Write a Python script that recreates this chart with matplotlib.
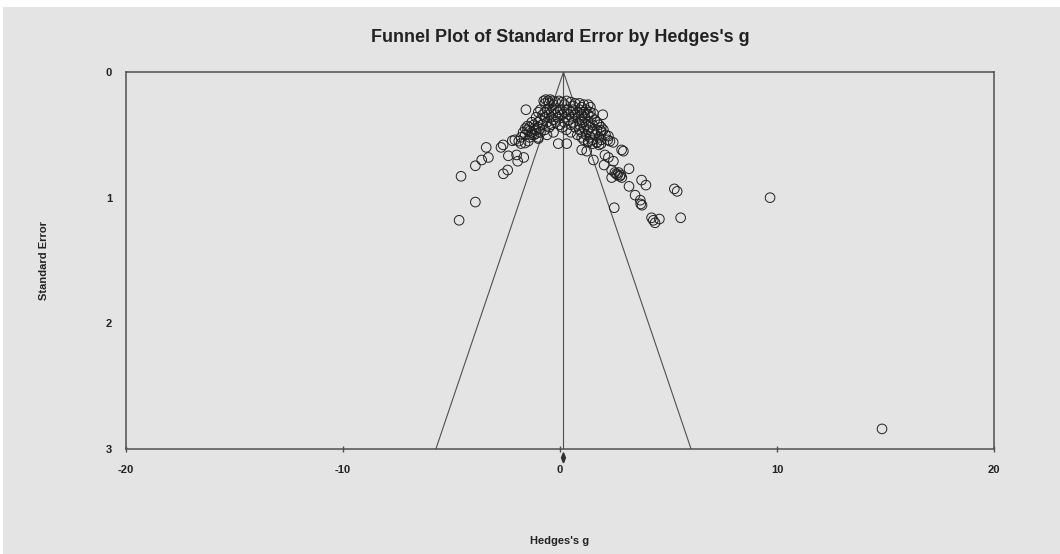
#!/usr/bin/env python3
"""Funnel plot of standard error by Hedges's g"""

import matplotlib
matplotlib.use('Agg')
import matplotlib.pyplot as plt
from matplotlib.patches import Rectangle

plt.rcParams['axes.unicode_minus'] = False

# --- datos ---
hedges_g = [
    # flanco izquierdo disperso
    -1.57, -4.56, -3.90, -4.65, -3.40, -3.90, -3.61, -3.30, -2.72, -2.62,
    -2.38, -2.61, -2.41, -1.95, -2.00, -1.67, -2.20, -2.08, -1.61, -1.46,
    -1.00, -0.08, 0.31,
    # flanco derecho disperso
    1.97, 1.54, 1.89, 2.23, 2.30, 2.45, 2.84, 2.92, 1.00, 1.23,
    1.54, 2.07, 2.23, 2.46, 2.03, 2.38, 2.53, 2.65, 2.75, 2.85,
    2.38, 2.60, 2.70, 2.80, 3.18, 3.18, 3.76, 3.96, 3.46, 3.70,
    3.72, 3.78, 2.50, 4.22, 4.30, 4.38, 4.58, 5.56, 5.27, 5.40,
    9.68, 14.84,
    # banda superior
    -0.75, -0.65, -0.55, -0.45, -0.35, -0.20, -0.05, 0.10, 0.30, 0.50,
    0.70, 0.90, 1.10, 1.30, -0.70, -0.50, -0.30, 0.20, 0.60, 1.00, 1.40,
    # nucleo denso
    -0.9, -0.6, -0.3, 0.0, 0.3, 0.6, 0.9, 1.2,
    -1.0, -0.7, -0.4, -0.1, 0.2, 0.5, 0.8, 1.1, 1.4,
    -0.8, -0.5, -0.2, 0.1, 0.4, 0.7, 1.0, 1.3,
    -1.1, -0.7, -0.4, -0.1, 0.25, 0.55, 0.85, 1.15, 1.45,
    -0.9, -0.3, 0.4, 1.0, 1.6,
    -1.3, -1.0, -0.6, -0.2, 0.2, 0.6, 1.0, 1.3, 1.7,
    -1.2, -0.8, -0.4, 0.0, 0.5, 0.9, 1.2, 1.5, 1.8,
    -1.4, -1.0, -0.5, 0.1, 0.7, 1.1, 1.4, 1.9,
    -1.5, -1.1, -0.7, 0.3, 0.9, 1.3, 1.7, 2.0,
    -1.3, -0.9, -0.3, 0.5, 1.0, 1.5, 1.9,
    -1.6, -1.2, -0.6, 0.8, 1.2, 1.6, 2.1,
    -1.4, -1.0, 1.0, 1.4, 1.8,
    1.1, 1.5, 1.9, 2.2,
    1.3, 1.7,
    # flanco izquierdo del nucleo
    -1.8, -1.7, -1.6, -1.5, -1.4, -1.2, -1.9, -1.8, -1.3, -1.1,
    # flanco derecho del nucleo
    1.3, 1.5, 1.7, 1.8, 1.9,
]

std_error = [
    0.30, 0.83, 1.035, 1.18, 0.60, 0.746, 0.70, 0.68, 0.60, 0.58,
    0.667, 0.81, 0.78, 0.71, 0.66, 0.68, 0.547, 0.54, 0.565, 0.55,
    0.53, 0.57, 0.57,
    0.34, 0.33, 0.467, 0.51, 0.55, 0.56, 0.62, 0.63, 0.62, 0.63,
    0.70, 0.66, 0.68, 0.71, 0.74, 0.78, 0.80, 0.82, 0.83, 0.84,
    0.84, 0.81, 0.80, 0.82, 0.77, 0.91, 0.86, 0.90, 0.98, 1.02,
    1.05, 1.06, 1.08, 1.16, 1.18, 1.20, 1.17, 1.16, 0.93, 0.95,
    1.00, 2.84,
    0.23, 0.22, 0.23, 0.22, 0.23, 0.24, 0.23, 0.24, 0.23, 0.24,
    0.25, 0.25, 0.26, 0.26, 0.25, 0.25, 0.26, 0.26, 0.27, 0.28, 0.28,
    0.30, 0.30, 0.30, 0.30, 0.30, 0.30, 0.30, 0.30,
    0.32, 0.32, 0.32, 0.32, 0.32, 0.32, 0.32, 0.32, 0.32,
    0.34, 0.34, 0.34, 0.34, 0.34, 0.34, 0.34, 0.34,
    0.36, 0.36, 0.36, 0.36, 0.36, 0.36, 0.36, 0.36, 0.36,
    0.38, 0.38, 0.38, 0.38, 0.38,
    0.40, 0.40, 0.40, 0.40, 0.40, 0.40, 0.40, 0.40, 0.40,
    0.42, 0.42, 0.42, 0.42, 0.42, 0.42, 0.42, 0.42, 0.42,
    0.44, 0.44, 0.44, 0.44, 0.44, 0.44, 0.44, 0.44,
    0.46, 0.46, 0.46, 0.46, 0.46, 0.46, 0.46, 0.46,
    0.48, 0.48, 0.48, 0.48, 0.48, 0.48, 0.48,
    0.50, 0.50, 0.50, 0.50, 0.50, 0.50, 0.50,
    0.52, 0.52, 0.52, 0.52, 0.52,
    0.54, 0.54, 0.54, 0.54,
    0.56, 0.56,
    0.52, 0.48, 0.45, 0.43, 0.47, 0.45, 0.55, 0.57, 0.50, 0.49,
    0.55, 0.57, 0.56, 0.58, 0.57,
]

efecto_medio = 0.16        # estimacion combinada
ic_bajo, ic_alto = 0.07, 0.25
se_max = 3.0
z = 1.96

X_TICKS = [-20, -10, 0, 10, 20]
Y_TICKS = [0, 1, 2, 3]

GRIS = '#e4e4e4'
LINEA = '#505050'

fig = plt.figure(figsize=(10.6, 5.54), dpi=100)
fig.patch.set_facecolor('white')
fig.add_artist(Rectangle((3 / 1060, 0), 1, (554 - 7) / 554,
                         transform=fig.transFigure, facecolor=GRIS,
                         edgecolor='none', zorder=-10))

ax = fig.add_axes([126 / 1060, 105 / 554, 868 / 1060, 377 / 554])
ax.set_facecolor('none')

# embudo
ax.plot([efecto_medio - z * se_max, efecto_medio, efecto_medio + z * se_max],
        [se_max, 0, se_max], color=LINEA, lw=0.8)
ax.plot([efecto_medio, efecto_medio], [0, se_max], color=LINEA, lw=0.8)

ax.scatter(hedges_g, std_error, s=48, facecolors='none', edgecolors='#202020',
           linewidths=0.7, zorder=3)

# diamante del efecto combinado
ax.fill([ic_bajo, efecto_medio, ic_alto, efecto_medio],
        [3.07, 3.03, 3.07, 3.11], color='#303030', clip_on=False, zorder=4)

ax.set_xlim(-20, 20)
ax.set_ylim(3, 0)
ax.set_xticks(X_TICKS)
ax.set_yticks(Y_TICKS)

fuente = ['Liberation Sans Narrow', 'Liberation Sans', 'DejaVu Sans']
for lbl in ax.get_xticklabels() + ax.get_yticklabels():
    lbl.set_fontfamily(['Liberation Sans', 'DejaVu Sans'])
    lbl.set_fontweight('bold')
    lbl.set_fontsize(8)
    lbl.set_color('#222222')

ax.tick_params(axis='x', direction='inout', length=5, width=1, color=LINEA, pad=9)
ax.tick_params(axis='y', length=0, pad=10)
for spine in ax.spines.values():
    spine.set_color(LINEA)
    spine.set_linewidth(1.1)

ax.set_xlabel("Hedges's g", fontsize=8, fontweight='bold', labelpad=44,
              family=['Liberation Sans', 'DejaVu Sans'], color='#222222')
ax.set_ylabel('Standard Error', fontsize=8, fontweight='bold', labelpad=41,
              family=['Liberation Sans', 'DejaVu Sans'], color='#222222')

fig.text(560 / 1060, 1 - 38 / 554, "Funnel Plot of Standard Error by Hedges's g",
         ha='center', va='center', fontsize=13, fontweight='bold',
         family=fuente, color='#222222')

plt.savefig('out.png', dpi=100, facecolor=fig.get_facecolor())
plt.close()
